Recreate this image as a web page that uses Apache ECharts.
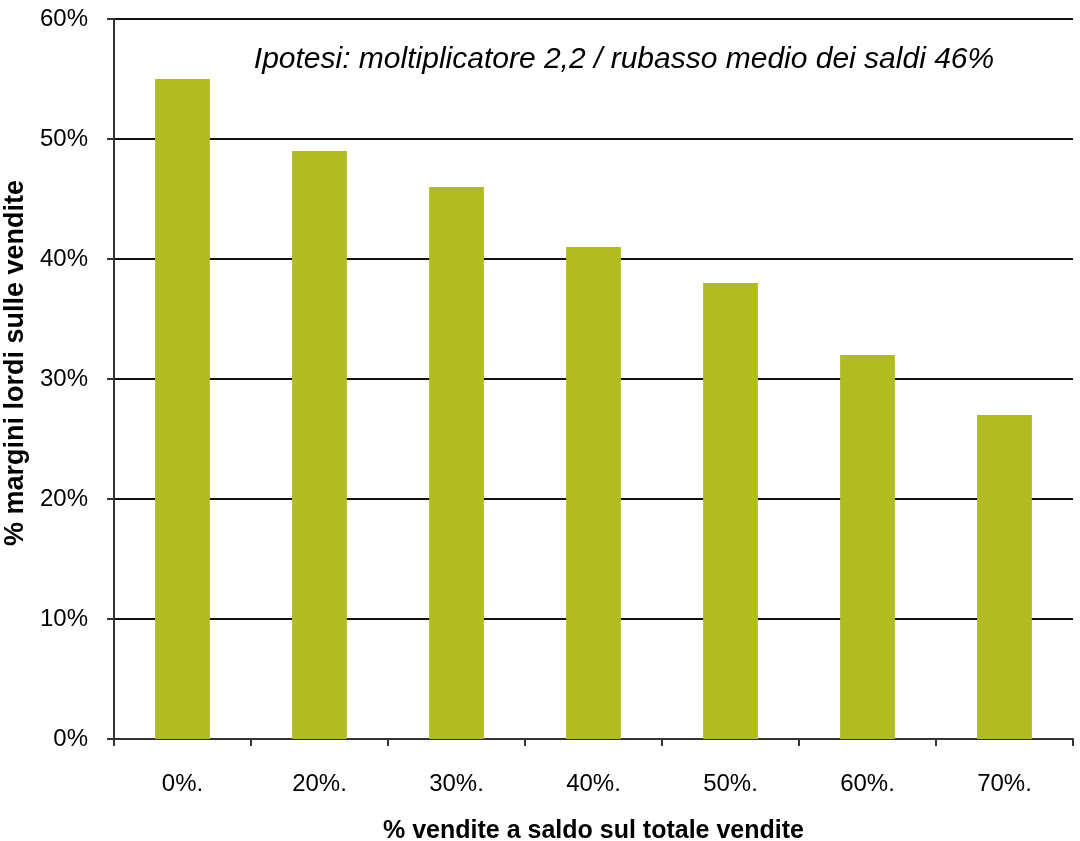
<!DOCTYPE html>
<html><head><meta charset="utf-8">
<script src="https://cdn.jsdelivr.net/npm/echarts@6/dist/echarts.min.js"></script>
<style>html,body{margin:0;padding:0;background:#fff}#c{width:1080px;height:841px}</style>
</head><body><div id="c"></div>
<script>
const categories = ['0%.', '20%.', '30%.', '40%.', '50%.', '60%.', '70%.'];
const margins = [55, 49, 46, 41, 38, 32, 27];
const yTicks = [0, 10, 20, 30, 40, 50, 60];
const titleText = 'Ipotesi: moltiplicatore 2,2 / rubasso medio dei saldi 46%';
const xName = '% vendite a saldo sul totale vendite';
const yName = '% margini lordi sulle vendite';

const chart = echarts.init(document.getElementById('c'), null, {renderer: 'canvas'});
const font = 'Liberation Sans, Arial, sans-serif';
chart.setOption({
  animation: false,
  backgroundColor: '#ffffff',
  title: {
    text: titleText, left: 619, top: 40, textAlign: 'center',
    textStyle: {fontFamily: font, fontStyle: 'italic', fontWeight: 'normal', fontSize: 30, color: '#000'}
  },
  grid: {left: 114, right: 7, top: 19, bottom: 102, containLabel: false, outerBoundsMode: 'none'},
  xAxis: {
    type: 'category', data: categories,
    name: xName, nameLocation: 'middle', nameGap: 80,
    nameTextStyle: {fontFamily: font, fontWeight: 'bold', fontSize: 25, color: '#000'},
    axisLine: {lineStyle: {color: '#333', width: 2}},
    axisTick: {show: true, length: 7, lineStyle: {color: '#333', width: 2}, alignWithLabel: false},
    axisLabel: {fontFamily: font, fontSize: 24, color: '#000', margin: 33},
    splitLine: {show: false}
  },
  yAxis: {
    type: 'value', min: 0, max: 60, interval: 10,
    name: yName, nameLocation: 'middle', nameGap: 83, nameRotate: 90,
    nameTextStyle: {fontFamily: font, fontWeight: 'bold', fontSize: 27, color: '#000', padding: [0, 0, 0, 32]},
    axisLine: {show: true, lineStyle: {color: '#333', width: 2}},
    axisTick: {show: true, length: 7, lineStyle: {color: '#333', width: 2}},
    axisLabel: {fontFamily: font, fontSize: 24, color: '#000', margin: 26,
      formatter: v => yTicks.includes(v) ? v + '%' : ''},
    splitLine: {show: true, lineStyle: {color: '#111', width: 2}}
  },
  series: [{
    type: 'bar', data: margins, barWidth: '40%',
    itemStyle: {color: '#b1bc22'}
  }]
});
</script></body></html>
